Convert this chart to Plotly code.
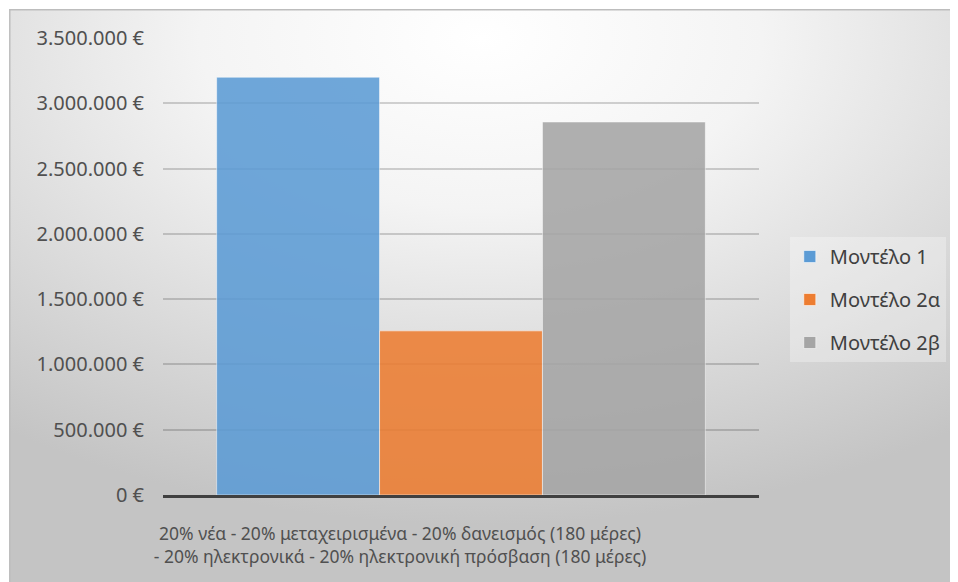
import base64
import plotly.graph_objects as go

# ---- data ----
categories = ["20% νέα - 20% μεταχειρισμένα - 20% δανεισμός (180 μέρες)<br>- 20% ηλεκτρονικά - 20% ηλεκτρονική πρόσβαση (180 μέρες)"]
series_names = ["Μοντέλο 1", "Μοντέλο 2α", "Μοντέλο 2β"]
model_1 = [3200000]
model_2a = [1257000]
model_2b = [2857000]
y_tick_values = [0, 500000, 1000000, 1500000, 2000000, 2500000, 3000000, 3500000]
y_tick_labels = ["0 €", "500.000 €", "1.000.000 €", "1.500.000 €", "2.000.000 €",
                 "2.500.000 €", "3.000.000 €", "3.500.000 €"]

colors = ["#5B9BD5", "#ED7D31", "#A5A5A5"]
series_values = [model_1, model_2a, model_2b]

# page body has an 8px margin, so the figure is laid out in its own coordinates
W, H = 950, 574
L, R, T, B = 155, 755, 30, 487  # plot area in figure pixels

fig = go.Figure()
for name, vals, col in zip(series_names, series_values, colors):
    fig.add_trace(go.Bar(
        x=categories, y=vals, name=name, legendgroup=name,
        marker=dict(color=col, opacity=0.87,
                    line=dict(color="rgba(255,255,255,0.55)", width=1)),
    ))

# background gradient as inline svg
svg = (
    '<svg xmlns="http://www.w3.org/2000/svg" width="950" height="573" viewBox="0 0 950 573" preserveAspectRatio="none">'
    '<defs><radialGradient id="g" cx="0.5" cy="0.05" r="0.85" fx="0.5" fy="0.05">'
    '<stop offset="0" stop-color="#ffffff"/>'
    '<stop offset="0.35" stop-color="#f4f4f4"/>'
    '<stop offset="1" stop-color="#c4c4c4"/>'
    '</radialGradient></defs>'
    '<rect x="0" y="0" width="950" height="573" fill="url(#g)"/>'
    '<path d="M0.75 573 L0.75 0.75 L950 0.75" fill="none" stroke="#bdbdbd" stroke-width="1.5"/>'
    '</svg>'
)
src = "data:image/svg+xml;base64," + base64.b64encode(svg.encode()).decode()

pw, ph = R - L, B - T
fig.add_layout_image(dict(
    source=src, xref="paper", yref="paper",
    x=(0 - L) / pw, y=(B - 1) / ph,
    sizex=W / pw, sizey=(H - 1) / ph,
    xanchor="left", yanchor="top", sizing="stretch", layer="below",
))

font = "Noto Sans, Open Sans, sans-serif"
fig.update_layout(
    width=W, height=H,
    margin=dict(l=L, r=W - R, t=T, b=H - B, pad=0),
    paper_bgcolor="white", plot_bgcolor="rgba(0,0,0,0)",
    barmode="group", bargap=0.18, bargroupgap=0,
    font=dict(family=font, color="#505050", size=18),
    showlegend=True,
    legend=dict(
        x=(786 - L) / pw, y=(B - 229) / ph, xanchor="left", yanchor="top",
        bgcolor="rgba(255,255,255,0.3)", borderwidth=0,
        font=dict(family=font, size=20, color="#404040"),
        traceorder="grouped", tracegroupgap=14,
    ),
    xaxis=dict(
        showline=True, linecolor="#404040", linewidth=2.5,
        showgrid=False, ticks="", tickfont=dict(size=17.5, color="#505050"),
        ticklabelshift=-61, ticklabelstandoff=21,
    ),
    yaxis=dict(
        range=[0, 3500000], tickvals=y_tick_values, ticktext=y_tick_labels,
        showline=False, zeroline=False,
        showgrid=True, gridcolor="rgba(0,0,0,0.17)", gridwidth=1.5,
        ticks="", ticklabelstandoff=18,
        tickfont=dict(size=20, color="#505050"),
    ),
)

fig.write_html("out.html")
